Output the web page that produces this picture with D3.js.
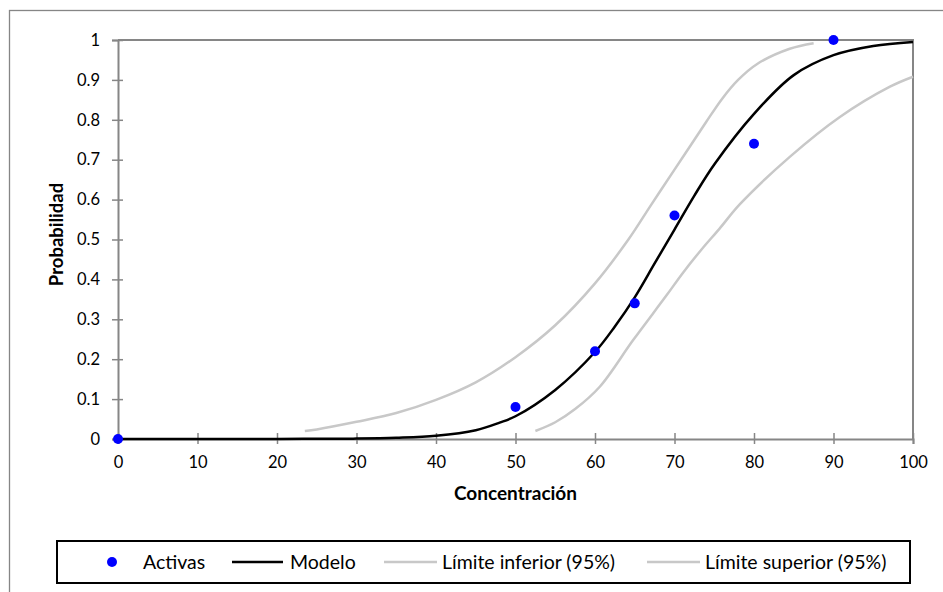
<!DOCTYPE html>
<html><head><meta charset="utf-8">
<script src="https://cdn.jsdelivr.net/npm/d3@7"></script>
<style>body{margin:0;background:#fff}svg{display:block}text{font-family:Lato,"Open Sans",sans-serif;fill:#000}</style>
</head><body><svg id="c" width="943" height="592"></svg>
<script>
// Data
const activasX = [0, 50, 60, 65, 70, 80, 90];
const activasY = [0, 0.08, 0.22, 0.34, 0.56, 0.74, 1.0];
const modeloX = [0, 10, 20, 25, 30, 35, 40, 45, 48, 50, 55, 60, 62.5, 65, 67.5, 70, 72.5, 75, 80, 85, 90, 95, 100];
const modeloY = [0, 0, 0, 0.0005, 0.001, 0.003, 0.008, 0.022, 0.041, 0.057, 0.123, 0.218, 0.282, 0.355, 0.44, 0.525, 0.61, 0.688, 0.815, 0.912, 0.962, 0.985, 0.995];
const supX = [23.5, 25, 30, 35, 40, 45, 50, 55, 60, 64.2, 67, 70, 72, 74, 76, 78, 80.4, 84.5, 87.5];
const supY = [0.02, 0.024, 0.043, 0.065, 0.098, 0.142, 0.205, 0.285, 0.39, 0.5, 0.585, 0.675, 0.735, 0.795, 0.853, 0.9, 0.94, 0.978, 0.992];
const infX = [52.5, 55, 57.5, 60.6, 64.8, 69, 71, 73.4, 75.7, 78.2, 84.5, 90.8, 97.1, 100];
const infY = [0.02, 0.042, 0.075, 0.131, 0.248, 0.36, 0.415, 0.475, 0.528, 0.588, 0.707, 0.807, 0.883, 0.908];
const xTicks = [0, 10, 20, 30, 40, 50, 60, 70, 80, 90, 100];
const yTicks = [0, 0.1, 0.2, 0.3, 0.4, 0.5, 0.6, 0.7, 0.8, 0.9, 1];
const legendLabels = ["Activas", "Modelo", "Límite inferior (95%)", "Límite superior (95%)"];

const svg = d3.select("#c");
const axisGrey = "#868686", limGrey = "#c8c8c8";
const x = d3.scaleLinear().domain([0, 100]).range([118, 913]);
const y = d3.scaleLinear().domain([0, 1]).range([439, 40]);

// chart outer border
svg.append("rect").attr("x", 9.5).attr("y", 10.5).attr("width", 1000).attr("height", 1000)
  .attr("fill", "none").attr("stroke", axisGrey).attr("stroke-width", 1.3);

// plot area top / right border
svg.append("path").attr("d", `M${x(0)},${y(1)}H${x(100)}V${y(0)}`)
  .attr("fill", "none").attr("stroke", axisGrey).attr("stroke-width", 2);

// axes
const yAxis = svg.append("g").attr("transform", `translate(${x(0)},0)`)
  .call(d3.axisLeft(y).tickValues(yTicks).tickSize(6).tickPadding(12).tickFormat(d => d === 0 ? "0" : d === 1 ? "1" : d3.format(".1f")(d)));
yAxis.select(".domain").attr("stroke", axisGrey).attr("stroke-width", 2);
yAxis.selectAll(".tick line").attr("stroke", axisGrey).attr("stroke-width", 1.5).attr("x1", 5);
yAxis.selectAll(".tick text").attr("font-size", 16.5).attr("font-family", "Lato").attr("fill", "#000");

const xAxis = svg.append("g").attr("transform", `translate(0,${y(0)})`)
  .call(d3.axisBottom(x).tickValues(xTicks).tickSize(5).tickPadding(12));
xAxis.select(".domain").attr("stroke", axisGrey).attr("stroke-width", 2);
xAxis.selectAll(".tick line").attr("stroke", axisGrey).attr("stroke-width", 1.5).attr("y1", -6);
xAxis.selectAll(".tick text").attr("font-size", 16.5).attr("font-family", "Lato").attr("fill", "#000");

// axis titles
svg.append("text").attr("x", (x(0) + x(100)) / 2).attr("y", 500).attr("text-anchor", "middle")
  .attr("font-size", 19).attr("font-weight", "bold").text("Concentración");
svg.append("text").attr("transform", `translate(63,${(y(0) + y(1)) / 2 - 5}) rotate(-90)`).attr("text-anchor", "middle")
  .attr("font-size", 18.5).attr("font-weight", "bold").text("Probabilidad");

// lines
const line = d3.line().x(d => x(d[0])).y(d => y(d[1])).curve(d3.curveCatmullRom.alpha(0.5));
svg.append("path").datum(supX.map((v, i) => [v, supY[i]])).attr("d", line)
  .attr("fill", "none").attr("stroke", limGrey).attr("stroke-width", 2.5);
svg.append("path").datum(infX.map((v, i) => [v, infY[i]])).attr("d", line)
  .attr("fill", "none").attr("stroke", limGrey).attr("stroke-width", 2.5);
svg.append("path").datum(modeloX.map((v, i) => [v, modeloY[i]])).attr("d", line)
  .attr("fill", "none").attr("stroke", "#000").attr("stroke-width", 2.5);

// points
svg.selectAll("circle.pt").data(activasX.map((v, i) => [v, activasY[i]])).enter()
  .append("circle").attr("class", "pt").attr("cx", d => x(d[0])).attr("cy", d => y(d[1]))
  .attr("r", 5).attr("fill", "#0000ff");

// legend
const lg = svg.append("g");
lg.append("rect").attr("x", 57).attr("y", 541).attr("width", 853).attr("height", 42)
  .attr("fill", "#fff").attr("stroke", "#000").attr("stroke-width", 2);
const ly = 562;
lg.append("circle").attr("cx", 112).attr("cy", ly).attr("r", 5).attr("fill", "#0000ff");
lg.append("line").attr("x1", 232).attr("x2", 283).attr("y1", ly).attr("y2", ly).attr("stroke", "#000").attr("stroke-width", 2.5);
lg.append("line").attr("x1", 384).attr("x2", 437).attr("y1", ly).attr("y2", ly).attr("stroke", limGrey).attr("stroke-width", 2.5);
lg.append("line").attr("x1", 647).attr("x2", 700).attr("y1", ly).attr("y2", ly).attr("stroke", limGrey).attr("stroke-width", 2.5);
const lx = [143, 290, 442, 705];
legendLabels.forEach((t, i) => {
  lg.append("text").attr("x", lx[i]).attr("y", ly).attr("dy", "0.35em").attr("font-size", 19.5).text(t);
});
</script></body></html>
